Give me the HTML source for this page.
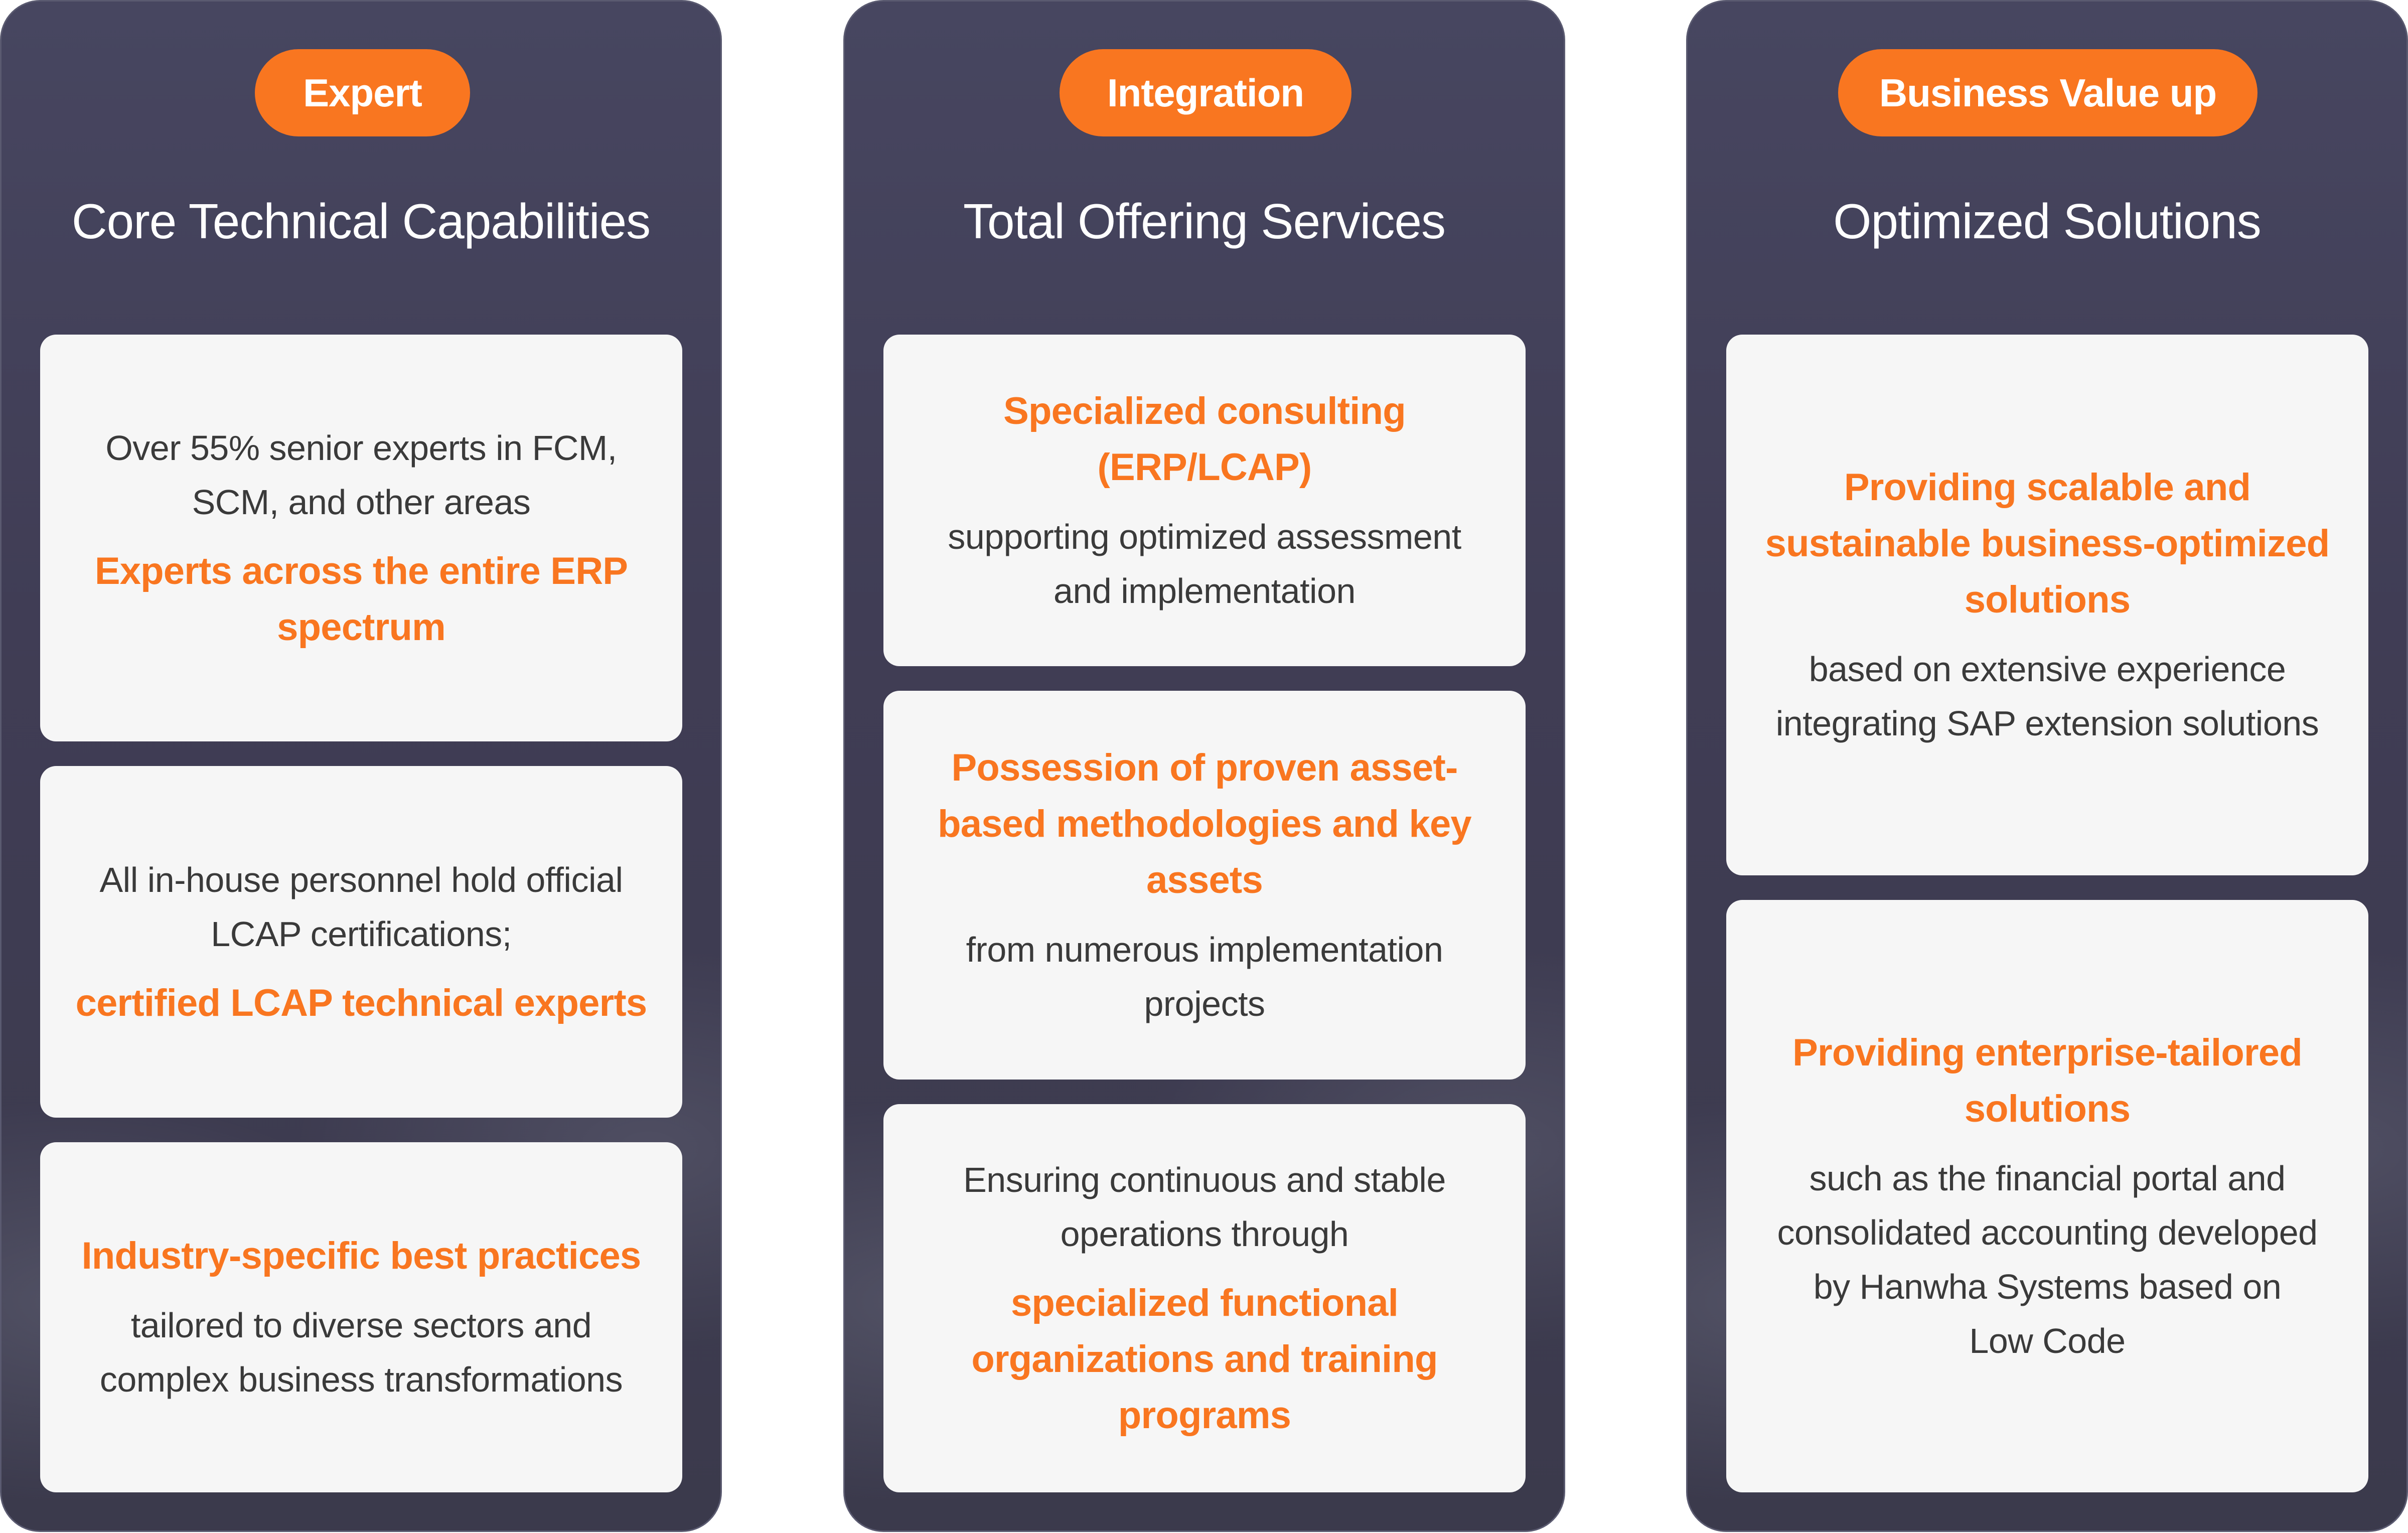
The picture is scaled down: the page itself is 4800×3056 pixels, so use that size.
<!DOCTYPE html>
<html><head><meta charset="utf-8"><style>
html,body{margin:0;padding:0;width:4800px;height:3056px;background:#fff;overflow:hidden}
*{box-sizing:border-box}
body{font-family:"Liberation Sans",sans-serif;position:relative}
.panel{position:absolute;top:0;width:1439px;height:3054px;border-radius:80px;
background:radial-gradient(ellipse 700px 400px at 10% 85%,rgba(120,122,140,.35),transparent),
radial-gradient(ellipse 700px 400px at 90% 75%,rgba(120,122,140,.3),transparent),
linear-gradient(180deg,#474660 0%,#403d55 40%,#3b3a4c 100%);
border:3px solid #5a5a70}
.pill{position:absolute;top:95px;height:174px;border-radius:87px;background:#f97620;color:#fff;
font-size:78px;font-weight:bold;display:flex;align-items:center;justify-content:center;letter-spacing:-1px}
.title{position:absolute;left:0;width:100%;top:378px;height:120px;line-height:120px;text-align:center;color:#fff;font-size:98px;letter-spacing:-1px}
.card{position:absolute;left:77px;width:1280px;background:#f6f6f6;border-radius:32px;display:flex;flex-direction:column;align-items:center;justify-content:center;text-align:center;white-space:nowrap}
.b{font-size:70px;line-height:108px;color:#3a3a3a;letter-spacing:-0.5px}
.h{font-size:76px;line-height:112px;color:#f97620;font-weight:bold;letter-spacing:-0.8px}
.gap{height:28px}
</style></head><body>

<div class="panel" style="left:0">
  <div class="pill" style="left:505px;width:429px">Expert</div>
  <div class="title">Core Technical Capabilities</div>
  <div class="card" style="top:664px;height:811px">
    <div class="b">Over 55% senior experts in FCM,<br>SCM, and other areas</div><div class="gap"></div>
    <div class="h">Experts across the entire ERP<br>spectrum</div>
  </div>
  <div class="card" style="top:1524px;height:701px">
    <div class="b">All in-house personnel hold official<br>LCAP certifications;</div><div class="gap"></div>
    <div class="h">certified LCAP technical experts</div>
  </div>
  <div class="card" style="top:2274px;height:698px">
    <div class="h">Industry-specific best practices</div><div class="gap"></div>
    <div class="b">tailored to diverse sectors and<br>complex business transformations</div>
  </div>
</div>

<div class="panel" style="left:1681px">
  <div class="pill" style="left:428px;width:582px">Integration</div>
  <div class="title">Total Offering Services</div>
  <div class="card" style="top:664px;height:661px">
    <div class="h">Specialized consulting<br>(ERP/LCAP)</div><div class="gap"></div>
    <div class="b">supporting optimized assessment<br>and implementation</div>
  </div>
  <div class="card" style="top:1374px;height:775px">
    <div class="h">Possession of proven asset-<br>based methodologies and key<br>assets</div><div class="gap"></div>
    <div class="b">from numerous implementation<br>projects</div>
  </div>
  <div class="card" style="top:2198px;height:774px">
    <div class="b">Ensuring continuous and stable<br>operations through</div><div class="gap"></div>
    <div class="h">specialized functional<br>organizations and training<br>programs</div>
  </div>
</div>

<div class="panel" style="left:3361px">
  <div class="pill" style="left:300px;width:836px">Business Value up</div>
  <div class="title">Optimized Solutions</div>
  <div class="card" style="top:664px;height:1078px">
    <div class="h">Providing scalable and<br>sustainable business-optimized<br>solutions</div><div class="gap"></div>
    <div class="b">based on extensive experience<br>integrating SAP extension solutions</div>
  </div>
  <div class="card" style="top:1791px;height:1181px">
    <div class="h">Providing enterprise-tailored<br>solutions</div><div class="gap"></div>
    <div class="b">such as the financial portal and<br>consolidated accounting developed<br>by Hanwha Systems based on<br>Low Code</div>
  </div>
</div>

</body></html>
